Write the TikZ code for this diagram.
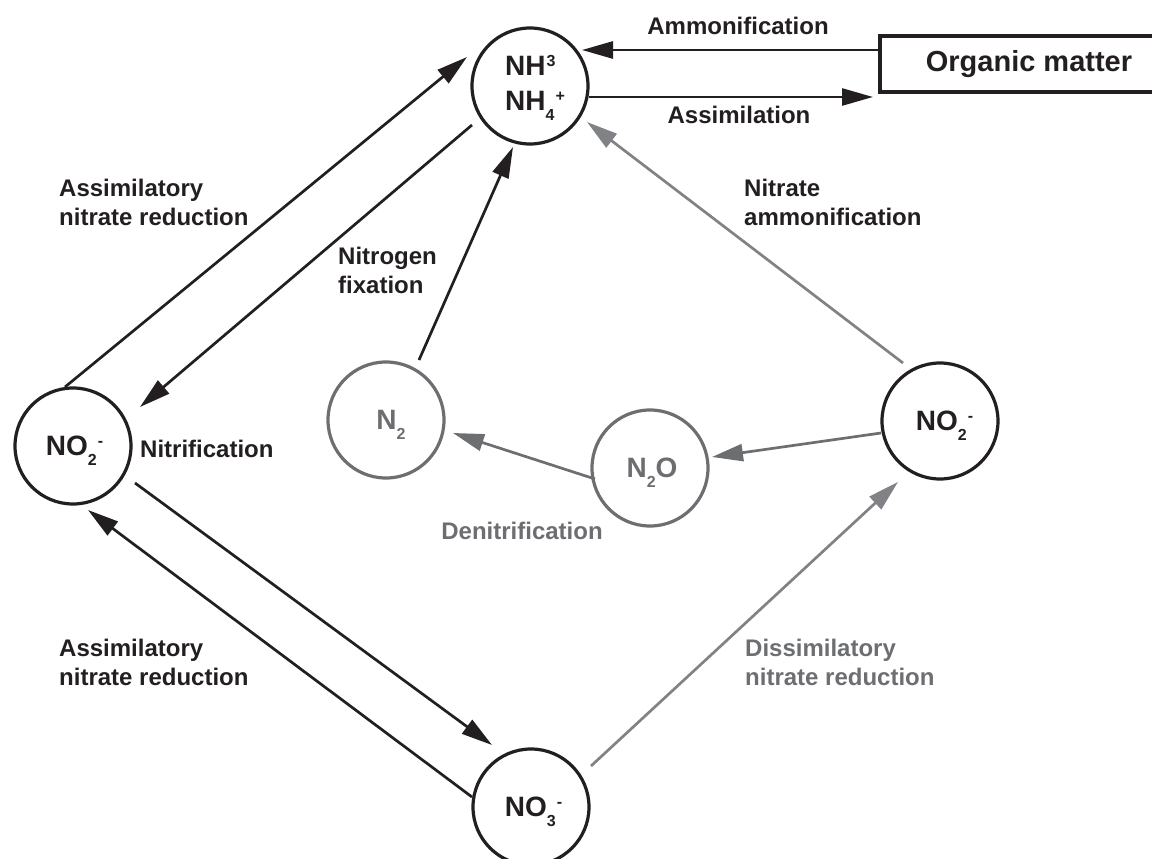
\documentclass[tikz,border=0pt]{standalone}
\usepackage{fontspec}
\setmainfont{Liberation Sans}
\usetikzlibrary{arrows.meta,calc}
\definecolor{ink}{RGB}{35,31,32}
\definecolor{gcirc}{RGB}{109,110,113}
\definecolor{garr}{RGB}{128,130,133}
\newcommand{\lo}[1]{\raisebox{-10pt}[0pt][0pt]{\fontsize{16}{16}\selectfont #1}}
\newcommand{\hi}[1]{\kern1pt\raisebox{9pt}[0pt][0pt]{\fontsize{16}{16}\selectfont #1}}
\begin{document}
\begin{tikzpicture}[x=1pt,y=-1pt,
  species/.style={circle,draw=ink,line width=3.2pt,minimum size=116pt,inner sep=0pt,outer sep=0pt,text=ink,font=\bfseries\fontsize{28}{35}\selectfont},
  gspecies/.style={species,draw=gcirc,text=gcirc},
  flow/.style={draw=ink,line width=2.7pt,-{Triangle[length=31pt,width=17pt]}},
  gflow/.style={flow,draw=gcirc},
  lflow/.style={flow,draw=garr},
  lab/.style={inner sep=0pt,text=ink,font=\bfseries\fontsize{24}{29}\selectfont},
  mlab/.style={lab,align=left,anchor=west},
  glab/.style={lab,text=gcirc}
]
\path[use as bounding box] (0,0) rectangle (1152,859);

% species
\node[species] (nh) at (530,86) {\begin{tabular}{@{\hspace{10pt}}l@{}}NH\hi{3}\\NH\lo{4}\hi{+}\end{tabular}};
\node[draw=ink,line width=3.2pt,minimum width=298pt,minimum height=56pt,inner sep=0pt,outer sep=0pt,text=ink,font=\bfseries\fontsize{29}{34}\selectfont] (org) at (1029,64) {Organic matter};
\node[species] (no2l) at (73,446) {\hspace*{3pt}NO\lo{2}\hi{-}};
\node[gspecies] (n2) at (386,420) {\hspace*{10pt}N\lo{2}};
\node[gspecies] (n2o) at (650,468) {\hspace*{4pt}N\lo{2}O};
\node[species] (no2r) at (940,421) {\hspace*{9pt}NO\lo{2}\hi{-}};
\node[species] (no3) at (531,807) {\hspace*{5pt}NO\lo{3}\hi{-}};

% connectors
\draw[flow] ($(org.west)+(0,-14)$) -- ($(nh)+(52,-36)$);
\draw[flow] ($(nh)+(59,11)$) -- ($(org.west)+(-7,33)$);
\draw[flow] ($(no2l)+(-8,-59)$) -- ($(nh)+(-63,-29)$);
\draw[flow] ($(nh)+(-58,39)$) -- ($(no2l)+(67,-39)$);
\draw[flow] ($(n2)+(33,-60)$) -- ($(nh)+(-17,61)$);
\draw[lflow] ($(no2r)+(-37,-58)$) -- ($(nh)+(57,36)$);
\draw[gflow] ($(n2o)+(-55,11)$) -- ($(n2)+(67,13)$);
\draw[gflow] ($(no2r)+(-59,12)$) -- ($(n2o)+(62,-11)$);
\draw[flow] ($(no2l)+(62,37)$) -- ($(no3)+(-39,-62)$);
\draw[flow] ($(no3)+(-59,-10)$) -- ($(no2l)+(15,64)$);
\draw[lflow] ($(no3)+(60,-41)$) -- ($(no2r)+(-42,61)$);

% labels
\node[lab,anchor=base] (lamm) at (738,35) {Ammonification};
\node[lab,anchor=base] (lass) at (739,123) {Assimilation};
\node[mlab] (lanr1) at (59,202) {Assimilatory\\nitrate reduction};
\node[mlab] (lfix) at (338,270) {Nitrogen\\fixation};
\node[mlab] (lnam) at (744,202) {Nitrate\\ammonification};
\node[lab,anchor=base west] (lnit) at (140,457) {Nitrification};
\node[glab,anchor=base] (lden) at (522,539) {Denitrification};
\node[mlab] (lanr2) at (59,662) {Assimilatory\\nitrate reduction};
\node[mlab,text=gcirc] (ldis) at (745,662) {Dissimilatory\\nitrate reduction};
\end{tikzpicture}
\end{document}
